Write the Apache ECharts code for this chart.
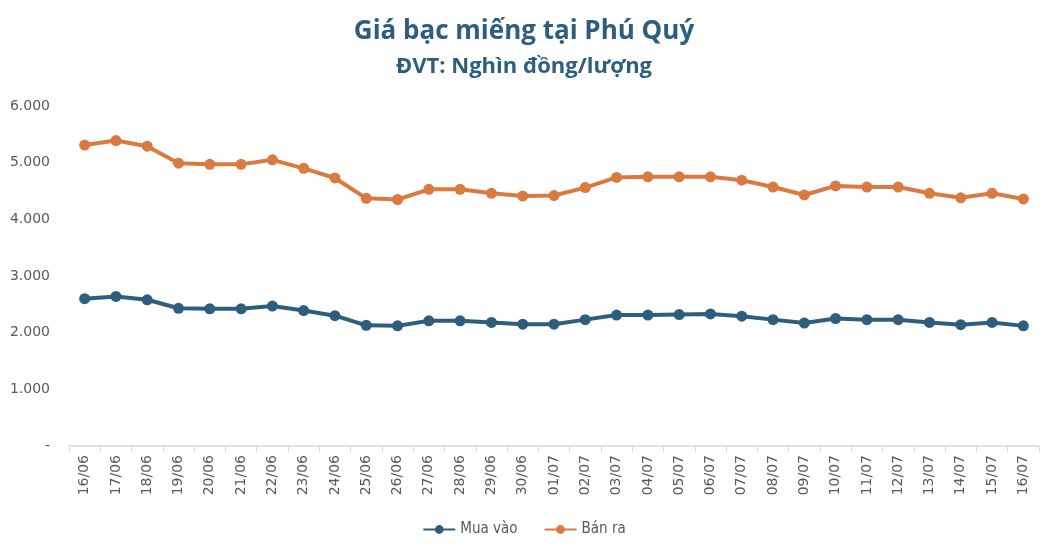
<!DOCTYPE html>
<html>
<head>
<meta charset="utf-8">
<script src="https://cdn.jsdelivr.net/npm/echarts@6/dist/echarts.min.js"></script>
<style>
  html, body { margin: 0; padding: 0; background: #fff; }
  #chart { width: 1048px; height: 550px; }
</style>
</head>
<body>
<div id="chart"></div>
<script>
// ngày
const days = ['16/06', '17/06', '18/06', '19/06', '20/06', '21/06', '22/06', '23/06', '24/06', '25/06',
  '26/06', '27/06', '28/06', '29/06', '30/06', '01/07', '02/07', '03/07', '04/07', '05/07',
  '06/07', '07/07', '08/07', '09/07', '10/07', '11/07', '12/07', '13/07', '14/07', '15/07', '16/07'];
// giá mua vào
const muaVao = [2600, 2640, 2580, 2430, 2420, 2420, 2470, 2390, 2300, 2130,
  2120, 2210, 2210, 2180, 2150, 2150, 2230, 2310, 2310, 2320,
  2330, 2290, 2230, 2170, 2250, 2230, 2230, 2180, 2140, 2180, 2120];
// giá bán ra
const banRa = [5310, 5390, 5290, 4990, 4970, 4970, 5050, 4900, 4730, 4370,
  4350, 4530, 4530, 4460, 4410, 4420, 4560, 4740, 4750, 4750,
  4750, 4690, 4570, 4430, 4590, 4570, 4570, 4460, 4380, 4460, 4360];

const blue = '#2e5e7e';
const orange = '#db7a40';

const chart = echarts.init(document.getElementById('chart'));

function fmt(v) {
  if (v === 0) return '-';
  return v.toString().replace(/\B(?=(\d{3})+(?!\d))/g, '.');
}

chart.setOption({
  animation: false,
  title: [
    {
      text: 'Giá bạc miếng tại Phú Quý',
      left: 'center',
      top: 14,
      textStyle: { color: blue, fontSize: 26, fontWeight: 'bold', fontFamily: 'Open Sans' }
    },
    {
      text: 'ĐVT: Nghìn đồng/lượng',
      left: 'center',
      top: 51,
      textStyle: { color: blue, fontSize: 22, fontWeight: 'bold', fontFamily: 'Open Sans' }
    }
  ],
  legend: {
    bottom: 8,
    left: 'center',
    itemWidth: 32,
    itemHeight: 11,
    itemGap: 26,
    textStyle: { color: '#595959', fontSize: 15, fontFamily: 'DejaVu Sans Condensed, sans-serif' },
    data: ['Mua vào', 'Bán ra']
  },
  grid: { left: 69, right: 9, top: 106, bottom: 104 },
  xAxis: {
    type: 'category',
    data: days,
    boundaryGap: true,
    axisLine: { lineStyle: { color: '#d9d9d9', width: 1.5 } },
    axisTick: { show: true, length: 6, lineStyle: { color: '#d9d9d9' } },
    axisLabel: { rotate: 90, color: '#595959', fontSize: 14, margin: 9, fontFamily: 'DejaVu Sans, sans-serif' }
  },
  yAxis: {
    type: 'value',
    min: 0,
    max: 6000,
    interval: 1000,
    splitLine: { show: false },
    axisLine: { show: false },
    axisTick: { show: false },
    axisLabel: { color: '#595959', fontSize: 14, margin: 19, formatter: fmt, fontFamily: 'DejaVu Sans, sans-serif' }
  },
  series: [
    {
      name: 'Mua vào',
      type: 'line',
      data: muaVao,
      symbol: 'circle',
      symbolSize: 11,
      color: blue,
      lineStyle: { width: 4, color: blue },
      itemStyle: { color: blue }
    },
    {
      name: 'Bán ra',
      type: 'line',
      data: banRa,
      symbol: 'circle',
      symbolSize: 11,
      color: orange,
      lineStyle: { width: 4, color: orange },
      itemStyle: { color: orange }
    }
  ]
});
</script>
</body>
</html>
